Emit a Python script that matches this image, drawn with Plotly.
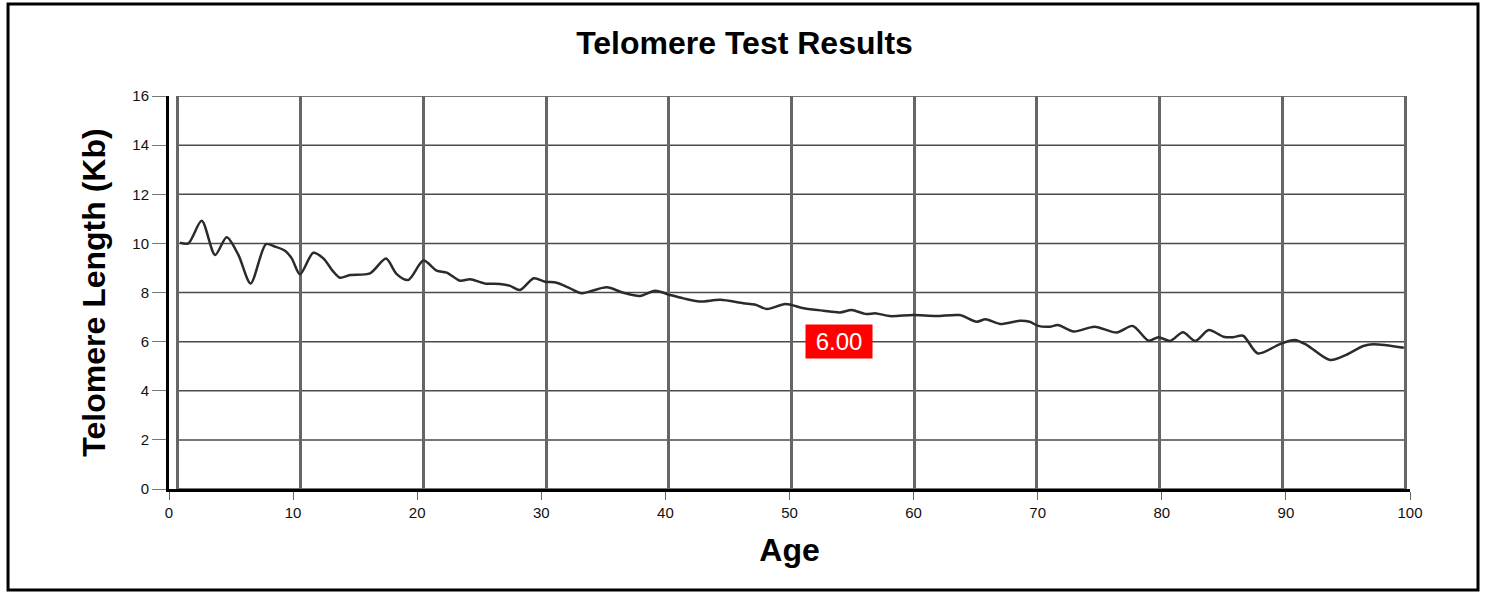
import plotly.graph_objects as go

# Data (age on the chart's grid frame, telomere length in Kb)
ages = [0.16, 0.84, 1.93, 3.02, 3.97, 4.92, 5.92, 7.17, 7.9, 8.72, 9.27, 9.94,
        11.03, 11.84, 12.66, 13.2, 14.02, 15.65, 16.95, 17.82, 18.77, 20.0,
        21.08, 21.9, 22.98, 23.8, 25.0, 26.24, 27.06, 27.87, 29.0, 29.9, 30.86,
        31.95, 32.9, 33.7, 34.94, 36.3, 37.65, 38.88, 40.1, 41.18, 42.5, 44.2,
        46.07, 47.0, 48.0, 49.5, 51.0, 52.6, 53.95, 54.9, 56.0, 56.9, 58.0,
        59.9, 61.8, 63.7, 65.1, 65.8, 67.0, 68.6, 69.4, 70.1, 71.1, 71.7, 73.0,
        74.7, 76.5, 77.8, 79.1, 79.9, 80.85, 81.9, 82.9, 84.0, 85.2, 86.0, 86.8,
        88.0, 89.8, 91.0, 92.0, 93.9, 95.2, 96.6, 97.4, 99.9]
lengths = [10.03, 10.0, 10.92, 9.53, 10.25, 9.53, 8.37, 9.97, 9.87, 9.70, 9.39, 8.74,
           9.62, 9.39, 8.85, 8.6, 8.71, 8.78, 9.38, 8.75, 8.51, 9.30,
           8.89, 8.81, 8.48, 8.54, 8.37, 8.35, 8.27, 8.10, 8.58, 8.44, 8.40,
           8.17, 7.97, 8.06, 8.21, 7.99, 7.86, 8.07, 7.90, 7.76, 7.63, 7.70,
           7.56, 7.51, 7.33, 7.53, 7.36, 7.26, 7.19, 7.29, 7.13, 7.15, 7.04,
           7.08, 7.04, 7.08, 6.81, 6.91, 6.72, 6.85, 6.81, 6.64, 6.61, 6.68, 6.41,
           6.61, 6.37, 6.64, 6.04, 6.18, 6.03, 6.38, 6.03, 6.47, 6.20, 6.18, 6.24,
           5.52, 5.90, 6.07, 5.86, 5.25, 5.46, 5.82, 5.89, 5.75]

x_ticks = [0, 10, 20, 30, 40, 50, 60, 70, 80, 90, 100]
y_ticks = [0, 2, 4, 6, 8, 10, 12, 14, 16]

result_value = 6.00
result_age = 54.0

FONT = "Arial, Liberation Sans, sans-serif"

fig = go.Figure()
fig.add_trace(go.Scatter(
    x=ages, y=lengths, xaxis="x2", yaxis="y", mode="lines",
    line=dict(color="#2b2b2b", width=2.5, shape="spline", smoothing=0.8),
    hoverinfo="skip", showlegend=False,
))

# Horizontal grid lines on the grid frame
for v in y_ticks:
    fig.add_shape(type="line", xref="x2", yref="y", x0=0, x1=100, y0=v, y1=v,
                  line=dict(color="#4a4a4a", width=1.5), layer="below")

# Outer frame
fig.add_shape(type="rect", xref="paper", yref="paper",
              x0=-0.1297, x1=1.0548, y0=-0.257, y1=1.234,
              line=dict(color="black", width=3), fillcolor="rgba(0,0,0,0)")

fig.add_annotation(
    x=result_age, y=result_value, xref="x", yref="y",
    text=f"{result_value:.2f}", showarrow=False,
    font=dict(family=FONT, size=24, color="white"),
    bgcolor="#ff0000", borderpad=3, width=60, height=27,
)

fig.update_layout(
    width=1489, height=593,
    margin=dict(l=169, r=79, t=96, b=104),
    paper_bgcolor="white", plot_bgcolor="white",
    title=dict(text="<b>Telomere Test Results</b>", x=0.5, xref="container",
               y=1 - 43 / 593, yref="container", yanchor="middle", xanchor="center",
               font=dict(family=FONT, size=32, color="black")),
    xaxis=dict(range=[0, 100], tickvals=x_ticks, ticktext=[str(t) for t in x_ticks],
               showgrid=False, zeroline=False,
               showline=True, linecolor="black", linewidth=3,
               ticks="outside", ticklen=8, tickcolor="#666666", tickwidth=1,
               tickfont=dict(family=FONT, size=15, color="#111111"),
               title=dict(text="<b>Age</b>", font=dict(family=FONT, size=32, color="black"),
                          standoff=19)),
    xaxis2=dict(range=[-0.733, 100.40], overlaying="x", tickvals=x_ticks,
                showticklabels=False, showgrid=True, gridcolor="#666666", gridwidth=2.5,
                zeroline=False, showline=False, ticks=""),
    yaxis=dict(range=[0, 16], tickvals=y_ticks,
               showgrid=False, zeroline=False,
               showline=True, linecolor="black", linewidth=3,
               ticks="outside", ticklen=14, tickcolor="#777777", tickwidth=1,
               tickfont=dict(family=FONT, size=15, color="#111111"),
               title=dict(text="<b>Telomere Length (Kb)</b>",
                          font=dict(family=FONT, size=32, color="black"), standoff=18)),
)

fig.write_html("out.html", config={"displayModeBar": False},
               post_script="document.body.style.margin='0px';")
